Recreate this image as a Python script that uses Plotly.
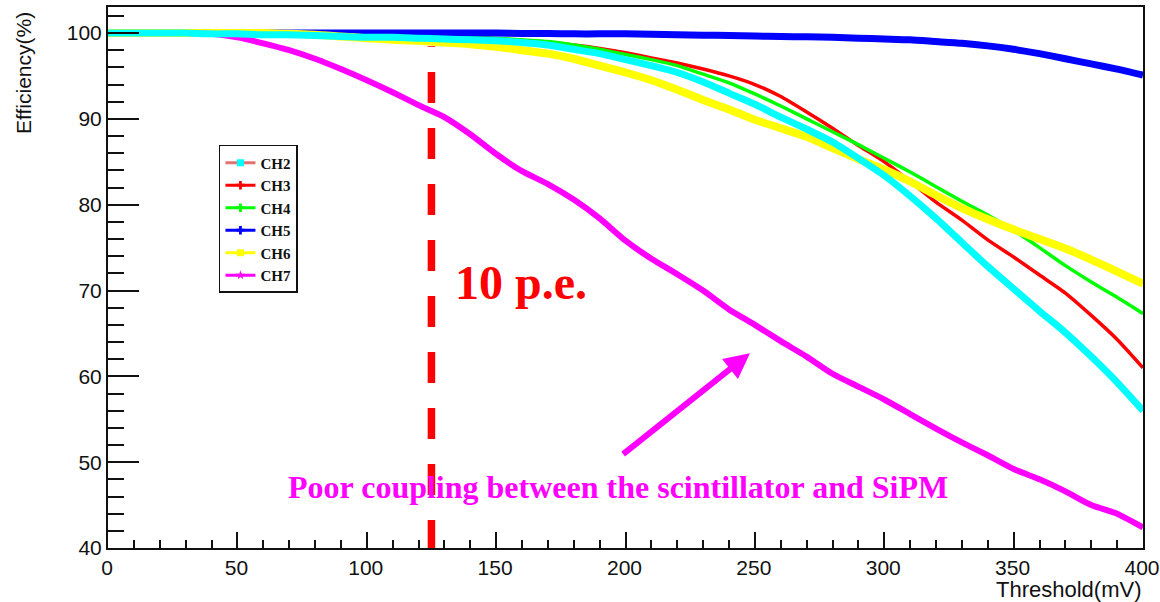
import plotly.graph_objects as go

# ---------------- data ----------------
threshold_mv = [0, 10, 20, 30, 40, 50, 60, 70, 80, 90, 100, 110, 120, 130, 140, 150,
                160, 170, 180, 190, 200, 210, 220, 230, 240, 250, 260, 270, 280, 290,
                300, 310, 320, 330, 340, 350, 360, 370, 380, 390, 400]

ch2 = [100, 100, 100, 100, 99.9, 99.9, 99.8, 99.8, 99.7, 99.6, 99.5, 99.5, 99.4, 99.3,
       99.2, 99.1, 98.9, 98.6, 98.1, 97.6, 96.9, 96.2, 95.4, 94.3, 93.0, 91.7, 90.2,
       88.8, 87.3, 85.4, 83.4, 81.0, 78.4, 75.6, 72.8, 70.2, 67.6, 65.1, 62.3, 59.3, 56.0]
ch3 = [100, 100, 100, 100, 100, 100, 99.9, 99.9, 99.9, 99.8, 99.8, 99.7, 99.6, 99.5,
       99.4, 99.3, 99.1, 98.9, 98.6, 98.2, 97.7, 97.1, 96.5, 95.8, 95.0, 94.0, 92.6,
       90.8, 88.9, 86.9, 85.0, 82.7, 80.3, 78.2, 75.9, 73.9, 71.8, 69.7, 67.1, 64.3, 61.0]
ch4 = [100, 100, 100, 100, 100, 100, 99.9, 99.9, 99.9, 99.8, 99.8, 99.7, 99.7, 99.6,
       99.5, 99.4, 99.2, 99.0, 98.6, 98.1, 97.5, 96.9, 96.2, 95.2, 94.2, 92.9, 91.5,
       90.0, 88.5, 87.0, 85.4, 83.8, 82.1, 80.4, 78.8, 77.0, 75.0, 72.9, 71.0, 69.2, 67.3]
ch5 = [100, 100, 100, 100, 100, 100, 100, 100, 100, 100, 100, 100, 100, 100, 100, 100,
       99.95, 99.95, 99.9, 99.9, 99.9, 99.85, 99.8, 99.75, 99.7, 99.65, 99.6, 99.55, 99.5,
       99.4, 99.3, 99.2, 99.0, 98.8, 98.5, 98.1, 97.6, 97.0, 96.4, 95.8, 95.1]
ch6 = [100, 100, 100, 100, 100, 100, 100, 99.9, 99.8, 99.6, 99.4, 99.2, 99.1, 98.9,
       98.7, 98.4, 98.0, 97.6, 97.0, 96.2, 95.4, 94.5, 93.4, 92.2, 91.1, 89.9, 88.9,
       87.9, 86.6, 85.3, 84.1, 82.7, 81.1, 79.6, 78.3, 77.1, 76.0, 74.9, 73.6, 72.2, 70.8]
ch7 = [100, 100, 100, 100, 99.9, 99.5, 98.8, 98.0, 97.0, 95.8, 94.5, 93.1, 91.6, 90.2,
       88.2, 85.9, 83.9, 82.4, 80.6, 78.4, 75.8, 73.7, 71.9, 70.0, 67.8, 66.0, 64.1,
       62.3, 60.3, 58.8, 57.3, 55.6, 53.9, 52.3, 50.8, 49.2, 48.0, 46.6, 45.0, 44.0, 42.4]

channel_names = ["CH2", "CH3", "CH4", "CH5", "CH6", "CH7"]
channel_colors = ["#00FFFF", "#FF0000", "#00FF00", "#0000FF", "#FFFF00", "#FF00FF"]
channel_widths = [7, 3.5, 3.5, 7, 8, 6]
legend_line_colors = ["#E07272", "#FF0000", "#00FF00", "#0000FF", "#FFFF00", "#FF00FF"]
legend_symbols = ["square", "cross", "cross", "cross", "square", "star"]

pe10_x = [125, 125]          # 10 p.e. threshold (mV)
pe10_y = [39.65, 98.45]      # vertical extent of the dashed marker line

arrow_tail = (198.5, 50.8)
arrow_head = (248.1, 62.7)

x_range = [0, 400]
y_range = [40, 103.03]

series = dict(zip(channel_names, [ch2, ch3, ch4, ch5, ch6, ch7]))
colors = dict(zip(channel_names, channel_colors))
widths = dict(zip(channel_names, channel_widths))

fig = go.Figure()

# dashed 10 p.e. line
fig.add_trace(go.Scatter(x=pe10_x, y=pe10_y, mode="lines", showlegend=False,
                         line=dict(color="#FF0000", width=7.5, dash="31px,25px"),
                         hoverinfo="skip"))

draw_order = ["CH3", "CH4", "CH5", "CH6", "CH7", "CH2"]
for name in draw_order:
    fig.add_trace(go.Scatter(
        x=threshold_mv, y=series[name], mode="lines", name=name, showlegend=False,
        line=dict(color=colors[name], width=widths[name], shape="spline", smoothing=0.6),
    ))

# legend entries (line + marker, like the original ROOT legend)
for i, name in enumerate(channel_names):
    fig.add_trace(go.Scatter(
        x=[None], y=[None], mode="lines+markers", name=name,
        line=dict(color=legend_line_colors[i], width=3),
        marker=dict(color=channel_colors[i], symbol=legend_symbols[i], size=7,
                    line=dict(width=0)),
    ))

tick_font = dict(family="Liberation Sans", size=21, color="#111")
axis_common = dict(showline=True, mirror=True, linecolor="#111", linewidth=2,
                   showgrid=False, zeroline=False, ticks="inside",
                   tickcolor="#111", tickwidth=2, tickfont=tick_font,
                   ticklabeloverflow="allow", automargin=False)

fig.update_xaxes(range=x_range, tick0=0, dtick=50, ticklen=16, ticklabelshift=-1,
                 minor=dict(dtick=10, ticks="inside", ticklen=8, tickcolor="#111", tickwidth=2),
                 **axis_common)
fig.update_yaxes(range=y_range, tick0=40, dtick=10, ticklen=31,
                 minor=dict(dtick=2, ticks="inside", ticklen=16, tickcolor="#111", tickwidth=2),
                 **axis_common)

fig.add_annotation(text="10 p.e.", x=159.8, y=70.98, xref="x", yref="y",
                   showarrow=False, xanchor="center", yanchor="middle",
                   font=dict(family="Liberation Serif", size=48,
                             color="#FF0000", weight="bold"))
fig.add_annotation(text="Poor coupling between the scintillator and SiPM",
                   x=197.1, y=47.1, xref="x", yref="y", showarrow=False,
                   xanchor="center", yanchor="middle",
                   font=dict(family="Liberation Serif", size=32,
                             color="#FF00FF", weight="bold"))
fig.add_annotation(text="", x=arrow_head[0], y=arrow_head[1], xref="x", yref="y",
                   ax=arrow_tail[0], ay=arrow_tail[1], axref="x", ayref="y",
                   showarrow=True, arrowhead=2, arrowwidth=6, arrowsize=0.85,
                   arrowcolor="#FF00FF", standoff=0)
fig.add_annotation(text="Efficiency(%)", x=-0.0812, y=0.9945, xref="paper", yref="paper",
                   textangle=-90, showarrow=False, xanchor="center", yanchor="top",
                   font=dict(family="Liberation Sans", size=21, color="#111"))
fig.add_annotation(text="Threshold(mV)", x=1.0, y=-0.0776, xref="paper", yref="paper",
                   showarrow=False, xanchor="right", yanchor="middle",
                   font=dict(family="Liberation Sans", size=22, color="#111"))

fig.update_layout(
    width=1160, height=602,
    margin=dict(l=108, r=17, t=7, b=54),
    paper_bgcolor="white", plot_bgcolor="white",
    legend=dict(x=0.1072, y=0.745, xanchor="left", yanchor="top",
                bgcolor="white", bordercolor="#111", borderwidth=1.5,
                font=dict(family="Liberation Serif", size=15,
                          color="#111", weight="bold"),
                itemwidth=30, tracegroupgap=0),
)

fig.write_html("out.html", config={"displayModeBar": False},
               post_script="document.body.style.margin='0px';")
